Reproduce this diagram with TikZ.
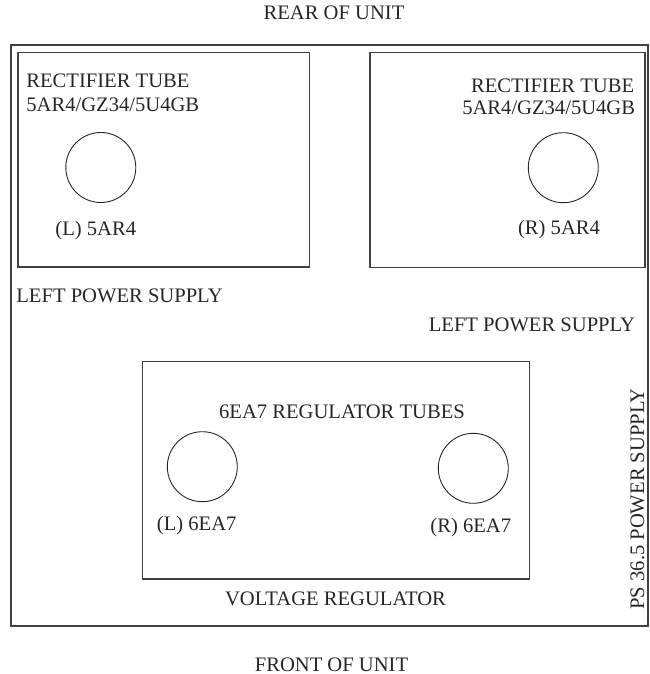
\documentclass[tikz,border=0pt]{standalone}
\usepackage{fontspec}
\setmainfont{Liberation Serif}
\usepackage{tikz}
\usetikzlibrary{positioning}

\begin{document}
\begin{tikzpicture}[
        x=0.5pt, y=-0.5pt,
        font=\fontsize{10.3}{12.4}\selectfont,
        panel/.style={draw=black!75, line width=0.7pt},
        tube/.style={circle, draw=black!85, line width=0.45pt, minimum size=35pt, inner sep=0pt},
        lbl/.style={inner sep=0pt, text=black!85}
        ]
        \useasboundingbox (0,0) rectangle (649,674);

        % chassis and sub panels
        \draw[panel] (11,45) rectangle (648,626);
        \draw[panel] (18,52.7) rectangle (309.3,267);
        \draw[panel] (370,52.7) rectangle (645,267.7);
        \draw[panel] (142.7,361.7) rectangle (529.3,579);

        % tubes
        \node[tube] (tubeL5) at (100.8,167.5) {};
        \node[tube] (tubeR5) at (563.3,167.7) {};
        \node[tube] (tubeL6) at (202.3,466.7) {};
        \node[tube] (tubeR6) at (473.3,468.3) {};

        % labels
        \node[lbl, anchor=base] (rear) at (334,19.3) {REAR OF UNIT};
        \node[lbl, anchor=base] (front) at (331.5,671.5) {FRONT OF UNIT};

        \node[lbl, anchor=base west] (rectL) at (26,88) {RECTIFIER TUBE};
        \node[lbl, anchor=base west] (typeL) at (26,112) {5AR4/GZ34/5U4GB};
        \node[lbl, anchor=base west] (nameL5) at (55,235) {(L) 5AR4};
        \node[lbl, anchor=base west] (psL) at (16,302) {LEFT POWER SUPPLY};

        \node[lbl, anchor=base east] (rectR) at (634.5,93) {RECTIFIER TUBE};
        \node[lbl, anchor=base east] (typeR) at (635.5,115) {5AR4/GZ34/5U4GB};
        \node[lbl, anchor=base west] (nameR5) at (517.7,234) {(R) 5AR4};
        \node[lbl, anchor=base east] (psR) at (635.5,331) {LEFT POWER SUPPLY};

        \node[lbl, anchor=base] (regtubes) at (342,418) {6EA7 REGULATOR TUBES};
        \node[lbl, anchor=base] (nameL6) at (196.7,530.7) {(L) 6EA7};
        \node[lbl, anchor=base] (nameR6) at (470.8,532.3) {(R) 6EA7};
        \node[lbl, anchor=base] (vreg) at (335.5,605) {VOLTAGE REGULATOR};

        \node[lbl, anchor=base west, rotate=90] (ps) at (644,610) {PS 36.5 POWER SUPPLY};
    \end{tikzpicture}
\end{document}
